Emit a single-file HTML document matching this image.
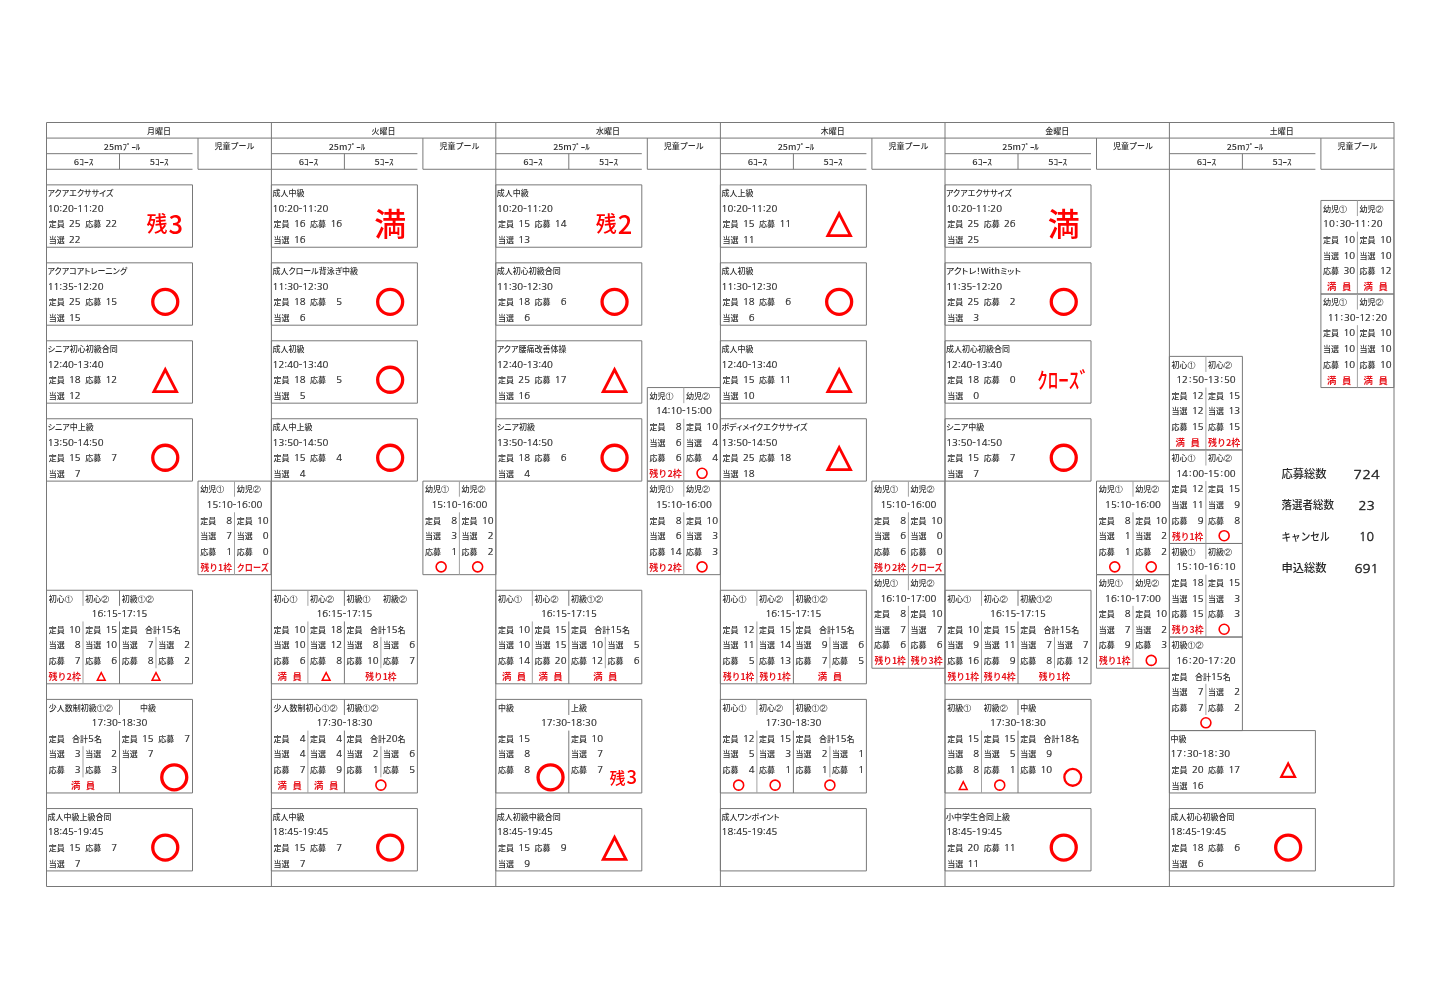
<!DOCTYPE html>
<html lang="ja"><head><meta charset="utf-8"><title>スケジュール</title>
<style>
html,body{margin:0;padding:0;background:#fff;}
body{width:1440px;height:996px;overflow:hidden;}
svg{display:block;will-change:transform;}
.ln{stroke:#787878;stroke-width:1;}
.lnl{stroke:#a3a3a3;stroke-width:1;}
text{font-family:"Liberation Sans","Noto Sans CJK JP",sans-serif;fill:#262626;}
.hd{font-family:"Noto Sans CJK JP",sans-serif;font-size:8px;font-weight:500;fill:#2e2e2e;}
.tt{font-family:"Noto Sans CJK JP",sans-serif;font-size:8px;font-weight:500;fill:#2e2e2e;font-feature-settings:"palt";}
.lb{font-family:"Noto Sans CJK JP",sans-serif;font-size:8px;font-weight:500;fill:#2e2e2e;}
.lb2{font-family:"Noto Sans CJK JP",sans-serif;font-size:8px;font-weight:500;fill:#2e2e2e;}
.tm{font-family:"NanumGothic",sans-serif;font-size:9.6px;fill:#2a2a2a;stroke:#2a2a2a;stroke-width:0.22px;}
.nm{font-family:"NanumGothic",sans-serif;font-size:9.6px;fill:#2a2a2a;stroke:#2a2a2a;stroke-width:0.22px;}
.rs{font-family:"Noto Sans CJK JP",sans-serif;font-size:9.4px;font-weight:700;fill:#e8161e;}
.nmt{font-family:"NanumGothic",sans-serif;font-size:9.6px;font-weight:400;fill:#2a2a2a;stroke:#2a2a2a;stroke-width:0.22px;}
.circ{font-family:"WenQuanYi Zen Hei",sans-serif;}
.rbig{font-family:"Noto Sans CJK JP",sans-serif;font-size:32px;font-weight:500;fill:#ff0000;}
.rzan{font-family:"Noto Sans CJK JP",sans-serif;font-size:21px;font-weight:500;fill:#ff0000;}
.rzd{font-size:25.5px;}
.rzan2{font-family:"Noto Sans CJK JP",sans-serif;font-size:16px;font-weight:500;fill:#ff0000;}
.rzd2{font-size:18.5px;}
.rclose{font-family:"Noto Sans CJK JP",sans-serif;font-size:22px;font-weight:500;fill:#ff0000;}
.st{font-family:"Noto Sans CJK JP",sans-serif;font-size:11.3px;font-weight:500;fill:#262626;}
.stn{font-family:"NanumGothic",sans-serif;font-size:13.2px;fill:#222;stroke:#222;stroke-width:0.35px;}
</style></head>
<body><svg width="1440" height="996" viewBox="0 0 1440 996">
<g><line class="ln" x1="46.5" y1="122.5" x2="1394" y2="122.5"/><line class="ln" x1="46.5" y1="886.51" x2="1394" y2="886.51"/><line class="ln" x1="46.5" y1="122.5" x2="46.5" y2="886.51"/><line class="ln" x1="271.4" y1="122.5" x2="271.4" y2="886.51"/><line class="ln" x1="495.8" y1="122.5" x2="495.8" y2="886.51"/><line class="ln" x1="720.4" y1="122.5" x2="720.4" y2="886.51"/><line class="ln" x1="945" y1="122.5" x2="945" y2="886.51"/><line class="ln" x1="1169.4" y1="122.5" x2="1169.4" y2="886.51"/><line class="ln" x1="1394" y1="122.5" x2="1394" y2="886.51"/><line class="ln" x1="46.5" y1="138.09" x2="271.4" y2="138.09"/><line class="ln" x1="46.5" y1="153.68" x2="192.5" y2="153.68"/><line class="ln" x1="119.5" y1="153.68" x2="119.5" y2="169.28"/><line class="ln" x1="46.5" y1="169.28" x2="192.5" y2="169.28"/><line class="ln" x1="198" y1="138.09" x2="198" y2="169.28"/><line class="ln" x1="198" y1="169.28" x2="271.4" y2="169.28"/><line class="ln" x1="271.4" y1="138.09" x2="495.8" y2="138.09"/><line class="ln" x1="271.4" y1="153.68" x2="417.4" y2="153.68"/><line class="ln" x1="344.4" y1="153.68" x2="344.4" y2="169.28"/><line class="ln" x1="271.4" y1="169.28" x2="417.4" y2="169.28"/><line class="ln" x1="422.9" y1="138.09" x2="422.9" y2="169.28"/><line class="ln" x1="422.9" y1="169.28" x2="495.8" y2="169.28"/><line class="ln" x1="495.8" y1="138.09" x2="720.4" y2="138.09"/><line class="ln" x1="495.8" y1="153.68" x2="641.8" y2="153.68"/><line class="ln" x1="568.8" y1="153.68" x2="568.8" y2="169.28"/><line class="ln" x1="495.8" y1="169.28" x2="641.8" y2="169.28"/><line class="ln" x1="647.3" y1="138.09" x2="647.3" y2="169.28"/><line class="ln" x1="647.3" y1="169.28" x2="720.4" y2="169.28"/><line class="ln" x1="720.4" y1="138.09" x2="945" y2="138.09"/><line class="ln" x1="720.4" y1="153.68" x2="866.4" y2="153.68"/><line class="ln" x1="793.4" y1="153.68" x2="793.4" y2="169.28"/><line class="ln" x1="720.4" y1="169.28" x2="866.4" y2="169.28"/><line class="ln" x1="871.9" y1="138.09" x2="871.9" y2="169.28"/><line class="ln" x1="871.9" y1="169.28" x2="945" y2="169.28"/><line class="ln" x1="945" y1="138.09" x2="1169.4" y2="138.09"/><line class="ln" x1="945" y1="153.68" x2="1091" y2="153.68"/><line class="ln" x1="1018" y1="153.68" x2="1018" y2="169.28"/><line class="ln" x1="945" y1="169.28" x2="1091" y2="169.28"/><line class="ln" x1="1096.5" y1="138.09" x2="1096.5" y2="169.28"/><line class="ln" x1="1096.5" y1="169.28" x2="1169.4" y2="169.28"/><line class="ln" x1="1169.4" y1="138.09" x2="1394" y2="138.09"/><line class="ln" x1="1169.4" y1="153.68" x2="1315.4" y2="153.68"/><line class="ln" x1="1242.4" y1="153.68" x2="1242.4" y2="169.28"/><line class="ln" x1="1169.4" y1="169.28" x2="1315.4" y2="169.28"/><line class="ln" x1="1320.9" y1="138.09" x2="1320.9" y2="169.28"/><line class="ln" x1="1320.9" y1="169.28" x2="1394" y2="169.28"/><line class="ln" x1="46.5" y1="184.87" x2="192.5" y2="184.87"/><line class="ln" x1="46.5" y1="247.24" x2="192.5" y2="247.24"/><line class="ln" x1="46.5" y1="184.87" x2="46.5" y2="247.24"/><line class="ln" x1="192.5" y1="184.87" x2="192.5" y2="247.24"/><line class="ln" x1="46.5" y1="262.83" x2="192.5" y2="262.83"/><line class="ln" x1="46.5" y1="325.2" x2="192.5" y2="325.2"/><line class="ln" x1="46.5" y1="262.83" x2="46.5" y2="325.2"/><line class="ln" x1="192.5" y1="262.83" x2="192.5" y2="325.2"/><line class="ln" x1="46.5" y1="340.79" x2="192.5" y2="340.79"/><line class="ln" x1="46.5" y1="403.16" x2="192.5" y2="403.16"/><line class="ln" x1="46.5" y1="340.79" x2="46.5" y2="403.16"/><line class="ln" x1="192.5" y1="340.79" x2="192.5" y2="403.16"/><line class="ln" x1="46.5" y1="418.75" x2="192.5" y2="418.75"/><line class="ln" x1="46.5" y1="481.12" x2="192.5" y2="481.12"/><line class="ln" x1="46.5" y1="418.75" x2="46.5" y2="481.12"/><line class="ln" x1="192.5" y1="418.75" x2="192.5" y2="481.12"/><line class="ln" x1="198" y1="481.12" x2="271" y2="481.12"/><line class="ln" x1="198" y1="574.67" x2="271" y2="574.67"/><line class="ln" x1="198" y1="481.12" x2="198" y2="574.67"/><line class="ln" x1="271" y1="481.12" x2="271" y2="574.67"/><line class="lnl" x1="234.5" y1="481.12" x2="234.5" y2="496.71"/><line class="lnl" x1="234.5" y1="512.3" x2="234.5" y2="574.67"/><line class="ln" x1="46.5" y1="590.26" x2="192.5" y2="590.26"/><line class="ln" x1="46.5" y1="683.81" x2="192.5" y2="683.81"/><line class="ln" x1="46.5" y1="590.26" x2="46.5" y2="683.81"/><line class="ln" x1="192.5" y1="590.26" x2="192.5" y2="683.81"/><line class="lnl" x1="83" y1="590.26" x2="83" y2="605.85"/><line class="ln" x1="119.5" y1="590.26" x2="119.5" y2="605.85"/><line class="lnl" x1="83" y1="621.44" x2="83" y2="683.81"/><line class="ln" x1="119.5" y1="621.44" x2="119.5" y2="683.81"/><line class="lnl" x1="156" y1="637.04" x2="156" y2="668.22"/><line class="ln" x1="46.5" y1="699.4" x2="192.5" y2="699.4"/><line class="ln" x1="46.5" y1="792.96" x2="192.5" y2="792.96"/><line class="ln" x1="46.5" y1="699.4" x2="46.5" y2="792.96"/><line class="ln" x1="192.5" y1="699.4" x2="192.5" y2="792.96"/><line class="ln" x1="119.5" y1="699.4" x2="119.5" y2="715"/><line class="ln" x1="119.5" y1="730.59" x2="119.5" y2="792.96"/><line class="lnl" x1="83" y1="746.18" x2="83" y2="777.36"/><line class="ln" x1="46.5" y1="808.55" x2="192.5" y2="808.55"/><line class="ln" x1="46.5" y1="870.92" x2="192.5" y2="870.92"/><line class="ln" x1="46.5" y1="808.55" x2="46.5" y2="870.92"/><line class="ln" x1="192.5" y1="808.55" x2="192.5" y2="870.92"/><line class="ln" x1="271.4" y1="184.87" x2="417.4" y2="184.87"/><line class="ln" x1="271.4" y1="247.24" x2="417.4" y2="247.24"/><line class="ln" x1="271.4" y1="184.87" x2="271.4" y2="247.24"/><line class="ln" x1="417.4" y1="184.87" x2="417.4" y2="247.24"/><line class="ln" x1="271.4" y1="262.83" x2="417.4" y2="262.83"/><line class="ln" x1="271.4" y1="325.2" x2="417.4" y2="325.2"/><line class="ln" x1="271.4" y1="262.83" x2="271.4" y2="325.2"/><line class="ln" x1="417.4" y1="262.83" x2="417.4" y2="325.2"/><line class="ln" x1="271.4" y1="340.79" x2="417.4" y2="340.79"/><line class="ln" x1="271.4" y1="403.16" x2="417.4" y2="403.16"/><line class="ln" x1="271.4" y1="340.79" x2="271.4" y2="403.16"/><line class="ln" x1="417.4" y1="340.79" x2="417.4" y2="403.16"/><line class="ln" x1="271.4" y1="418.75" x2="417.4" y2="418.75"/><line class="ln" x1="271.4" y1="481.12" x2="417.4" y2="481.12"/><line class="ln" x1="271.4" y1="418.75" x2="271.4" y2="481.12"/><line class="ln" x1="417.4" y1="418.75" x2="417.4" y2="481.12"/><line class="ln" x1="422.9" y1="481.12" x2="495.9" y2="481.12"/><line class="ln" x1="422.9" y1="574.67" x2="495.9" y2="574.67"/><line class="ln" x1="422.9" y1="481.12" x2="422.9" y2="574.67"/><line class="ln" x1="495.9" y1="481.12" x2="495.9" y2="574.67"/><line class="lnl" x1="459.4" y1="481.12" x2="459.4" y2="496.71"/><line class="lnl" x1="459.4" y1="512.3" x2="459.4" y2="574.67"/><line class="ln" x1="271.4" y1="590.26" x2="417.4" y2="590.26"/><line class="ln" x1="271.4" y1="683.81" x2="417.4" y2="683.81"/><line class="ln" x1="271.4" y1="590.26" x2="271.4" y2="683.81"/><line class="ln" x1="417.4" y1="590.26" x2="417.4" y2="683.81"/><line class="lnl" x1="307.9" y1="590.26" x2="307.9" y2="605.85"/><line class="ln" x1="344.4" y1="590.26" x2="344.4" y2="605.85"/><line class="lnl" x1="307.9" y1="621.44" x2="307.9" y2="683.81"/><line class="ln" x1="344.4" y1="621.44" x2="344.4" y2="683.81"/><line class="lnl" x1="380.9" y1="637.04" x2="380.9" y2="668.22"/><line class="ln" x1="271.4" y1="699.4" x2="417.4" y2="699.4"/><line class="ln" x1="271.4" y1="792.96" x2="417.4" y2="792.96"/><line class="ln" x1="271.4" y1="699.4" x2="271.4" y2="792.96"/><line class="ln" x1="417.4" y1="699.4" x2="417.4" y2="792.96"/><line class="ln" x1="344.4" y1="699.4" x2="344.4" y2="715"/><line class="ln" x1="344.4" y1="730.59" x2="344.4" y2="792.96"/><line class="lnl" x1="307.9" y1="730.59" x2="307.9" y2="792.96"/><line class="lnl" x1="380.9" y1="746.18" x2="380.9" y2="777.36"/><line class="ln" x1="271.4" y1="808.55" x2="417.4" y2="808.55"/><line class="ln" x1="271.4" y1="870.92" x2="417.4" y2="870.92"/><line class="ln" x1="271.4" y1="808.55" x2="271.4" y2="870.92"/><line class="ln" x1="417.4" y1="808.55" x2="417.4" y2="870.92"/><line class="ln" x1="495.8" y1="184.87" x2="641.8" y2="184.87"/><line class="ln" x1="495.8" y1="247.24" x2="641.8" y2="247.24"/><line class="ln" x1="495.8" y1="184.87" x2="495.8" y2="247.24"/><line class="ln" x1="641.8" y1="184.87" x2="641.8" y2="247.24"/><line class="ln" x1="495.8" y1="262.83" x2="641.8" y2="262.83"/><line class="ln" x1="495.8" y1="325.2" x2="641.8" y2="325.2"/><line class="ln" x1="495.8" y1="262.83" x2="495.8" y2="325.2"/><line class="ln" x1="641.8" y1="262.83" x2="641.8" y2="325.2"/><line class="ln" x1="495.8" y1="340.79" x2="641.8" y2="340.79"/><line class="ln" x1="495.8" y1="403.16" x2="641.8" y2="403.16"/><line class="ln" x1="495.8" y1="340.79" x2="495.8" y2="403.16"/><line class="ln" x1="641.8" y1="340.79" x2="641.8" y2="403.16"/><line class="ln" x1="495.8" y1="418.75" x2="641.8" y2="418.75"/><line class="ln" x1="495.8" y1="481.12" x2="641.8" y2="481.12"/><line class="ln" x1="495.8" y1="418.75" x2="495.8" y2="481.12"/><line class="ln" x1="641.8" y1="418.75" x2="641.8" y2="481.12"/><line class="ln" x1="647.3" y1="387.56" x2="720.3" y2="387.56"/><line class="ln" x1="647.3" y1="481.12" x2="720.3" y2="481.12"/><line class="ln" x1="647.3" y1="387.56" x2="647.3" y2="481.12"/><line class="ln" x1="720.3" y1="387.56" x2="720.3" y2="481.12"/><line class="lnl" x1="683.8" y1="387.56" x2="683.8" y2="403.16"/><line class="lnl" x1="683.8" y1="418.75" x2="683.8" y2="481.12"/><line class="ln" x1="647.3" y1="481.12" x2="720.3" y2="481.12"/><line class="ln" x1="647.3" y1="574.67" x2="720.3" y2="574.67"/><line class="ln" x1="647.3" y1="481.12" x2="647.3" y2="574.67"/><line class="ln" x1="720.3" y1="481.12" x2="720.3" y2="574.67"/><line class="lnl" x1="683.8" y1="481.12" x2="683.8" y2="496.71"/><line class="lnl" x1="683.8" y1="512.3" x2="683.8" y2="574.67"/><line class="ln" x1="495.8" y1="590.26" x2="641.8" y2="590.26"/><line class="ln" x1="495.8" y1="683.81" x2="641.8" y2="683.81"/><line class="ln" x1="495.8" y1="590.26" x2="495.8" y2="683.81"/><line class="ln" x1="641.8" y1="590.26" x2="641.8" y2="683.81"/><line class="lnl" x1="532.3" y1="590.26" x2="532.3" y2="605.85"/><line class="ln" x1="568.8" y1="590.26" x2="568.8" y2="605.85"/><line class="lnl" x1="532.3" y1="621.44" x2="532.3" y2="683.81"/><line class="ln" x1="568.8" y1="621.44" x2="568.8" y2="683.81"/><line class="lnl" x1="605.3" y1="637.04" x2="605.3" y2="668.22"/><line class="ln" x1="495.8" y1="699.4" x2="641.8" y2="699.4"/><line class="ln" x1="495.8" y1="792.96" x2="641.8" y2="792.96"/><line class="ln" x1="495.8" y1="699.4" x2="495.8" y2="792.96"/><line class="ln" x1="641.8" y1="699.4" x2="641.8" y2="792.96"/><line class="ln" x1="568.8" y1="699.4" x2="568.8" y2="715"/><line class="ln" x1="568.8" y1="730.59" x2="568.8" y2="792.96"/><line class="ln" x1="495.8" y1="808.55" x2="641.8" y2="808.55"/><line class="ln" x1="495.8" y1="870.92" x2="641.8" y2="870.92"/><line class="ln" x1="495.8" y1="808.55" x2="495.8" y2="870.92"/><line class="ln" x1="641.8" y1="808.55" x2="641.8" y2="870.92"/><line class="ln" x1="720.4" y1="184.87" x2="866.4" y2="184.87"/><line class="ln" x1="720.4" y1="247.24" x2="866.4" y2="247.24"/><line class="ln" x1="720.4" y1="184.87" x2="720.4" y2="247.24"/><line class="ln" x1="866.4" y1="184.87" x2="866.4" y2="247.24"/><line class="ln" x1="720.4" y1="262.83" x2="866.4" y2="262.83"/><line class="ln" x1="720.4" y1="325.2" x2="866.4" y2="325.2"/><line class="ln" x1="720.4" y1="262.83" x2="720.4" y2="325.2"/><line class="ln" x1="866.4" y1="262.83" x2="866.4" y2="325.2"/><line class="ln" x1="720.4" y1="340.79" x2="866.4" y2="340.79"/><line class="ln" x1="720.4" y1="403.16" x2="866.4" y2="403.16"/><line class="ln" x1="720.4" y1="340.79" x2="720.4" y2="403.16"/><line class="ln" x1="866.4" y1="340.79" x2="866.4" y2="403.16"/><line class="ln" x1="720.4" y1="418.75" x2="866.4" y2="418.75"/><line class="ln" x1="720.4" y1="481.12" x2="866.4" y2="481.12"/><line class="ln" x1="720.4" y1="418.75" x2="720.4" y2="481.12"/><line class="ln" x1="866.4" y1="418.75" x2="866.4" y2="481.12"/><line class="ln" x1="871.9" y1="481.12" x2="944.9" y2="481.12"/><line class="ln" x1="871.9" y1="574.67" x2="944.9" y2="574.67"/><line class="ln" x1="871.9" y1="481.12" x2="871.9" y2="574.67"/><line class="ln" x1="944.9" y1="481.12" x2="944.9" y2="574.67"/><line class="lnl" x1="908.4" y1="481.12" x2="908.4" y2="496.71"/><line class="lnl" x1="908.4" y1="512.3" x2="908.4" y2="574.67"/><line class="ln" x1="871.9" y1="574.67" x2="944.9" y2="574.67"/><line class="ln" x1="871.9" y1="668.22" x2="944.9" y2="668.22"/><line class="ln" x1="871.9" y1="574.67" x2="871.9" y2="668.22"/><line class="ln" x1="944.9" y1="574.67" x2="944.9" y2="668.22"/><line class="lnl" x1="908.4" y1="574.67" x2="908.4" y2="590.26"/><line class="lnl" x1="908.4" y1="605.85" x2="908.4" y2="668.22"/><line class="ln" x1="720.4" y1="590.26" x2="866.4" y2="590.26"/><line class="ln" x1="720.4" y1="683.81" x2="866.4" y2="683.81"/><line class="ln" x1="720.4" y1="590.26" x2="720.4" y2="683.81"/><line class="ln" x1="866.4" y1="590.26" x2="866.4" y2="683.81"/><line class="lnl" x1="756.9" y1="590.26" x2="756.9" y2="605.85"/><line class="ln" x1="793.4" y1="590.26" x2="793.4" y2="605.85"/><line class="lnl" x1="756.9" y1="621.44" x2="756.9" y2="683.81"/><line class="ln" x1="793.4" y1="621.44" x2="793.4" y2="683.81"/><line class="lnl" x1="829.9" y1="637.04" x2="829.9" y2="668.22"/><line class="ln" x1="720.4" y1="699.4" x2="866.4" y2="699.4"/><line class="ln" x1="720.4" y1="792.96" x2="866.4" y2="792.96"/><line class="ln" x1="720.4" y1="699.4" x2="720.4" y2="792.96"/><line class="ln" x1="866.4" y1="699.4" x2="866.4" y2="792.96"/><line class="lnl" x1="756.9" y1="699.4" x2="756.9" y2="715"/><line class="ln" x1="793.4" y1="699.4" x2="793.4" y2="715"/><line class="lnl" x1="756.9" y1="730.59" x2="756.9" y2="792.96"/><line class="ln" x1="793.4" y1="730.59" x2="793.4" y2="792.96"/><line class="lnl" x1="829.9" y1="746.18" x2="829.9" y2="777.36"/><line class="ln" x1="720.4" y1="808.55" x2="866.4" y2="808.55"/><line class="ln" x1="720.4" y1="870.92" x2="866.4" y2="870.92"/><line class="ln" x1="720.4" y1="808.55" x2="720.4" y2="870.92"/><line class="ln" x1="866.4" y1="808.55" x2="866.4" y2="870.92"/><line class="ln" x1="945" y1="184.87" x2="1091" y2="184.87"/><line class="ln" x1="945" y1="247.24" x2="1091" y2="247.24"/><line class="ln" x1="945" y1="184.87" x2="945" y2="247.24"/><line class="ln" x1="1091" y1="184.87" x2="1091" y2="247.24"/><line class="ln" x1="945" y1="262.83" x2="1091" y2="262.83"/><line class="ln" x1="945" y1="325.2" x2="1091" y2="325.2"/><line class="ln" x1="945" y1="262.83" x2="945" y2="325.2"/><line class="ln" x1="1091" y1="262.83" x2="1091" y2="325.2"/><line class="ln" x1="945" y1="340.79" x2="1091" y2="340.79"/><line class="ln" x1="945" y1="403.16" x2="1091" y2="403.16"/><line class="ln" x1="945" y1="340.79" x2="945" y2="403.16"/><line class="ln" x1="1091" y1="340.79" x2="1091" y2="403.16"/><line class="ln" x1="945" y1="418.75" x2="1091" y2="418.75"/><line class="ln" x1="945" y1="481.12" x2="1091" y2="481.12"/><line class="ln" x1="945" y1="418.75" x2="945" y2="481.12"/><line class="ln" x1="1091" y1="418.75" x2="1091" y2="481.12"/><line class="ln" x1="1096.5" y1="481.12" x2="1169.5" y2="481.12"/><line class="ln" x1="1096.5" y1="574.67" x2="1169.5" y2="574.67"/><line class="ln" x1="1096.5" y1="481.12" x2="1096.5" y2="574.67"/><line class="ln" x1="1169.5" y1="481.12" x2="1169.5" y2="574.67"/><line class="lnl" x1="1133" y1="481.12" x2="1133" y2="496.71"/><line class="lnl" x1="1133" y1="512.3" x2="1133" y2="574.67"/><line class="ln" x1="1096.5" y1="574.67" x2="1169.5" y2="574.67"/><line class="ln" x1="1096.5" y1="668.22" x2="1169.5" y2="668.22"/><line class="ln" x1="1096.5" y1="574.67" x2="1096.5" y2="668.22"/><line class="ln" x1="1169.5" y1="574.67" x2="1169.5" y2="668.22"/><line class="lnl" x1="1133" y1="574.67" x2="1133" y2="590.26"/><line class="lnl" x1="1133" y1="605.85" x2="1133" y2="668.22"/><line class="ln" x1="945" y1="590.26" x2="1091" y2="590.26"/><line class="ln" x1="945" y1="683.81" x2="1091" y2="683.81"/><line class="ln" x1="945" y1="590.26" x2="945" y2="683.81"/><line class="ln" x1="1091" y1="590.26" x2="1091" y2="683.81"/><line class="lnl" x1="981.5" y1="590.26" x2="981.5" y2="605.85"/><line class="ln" x1="1018" y1="590.26" x2="1018" y2="605.85"/><line class="lnl" x1="981.5" y1="621.44" x2="981.5" y2="683.81"/><line class="ln" x1="1018" y1="621.44" x2="1018" y2="683.81"/><line class="lnl" x1="1054.5" y1="637.04" x2="1054.5" y2="668.22"/><line class="ln" x1="945" y1="699.4" x2="1091" y2="699.4"/><line class="ln" x1="945" y1="792.96" x2="1091" y2="792.96"/><line class="ln" x1="945" y1="699.4" x2="945" y2="792.96"/><line class="ln" x1="1091" y1="699.4" x2="1091" y2="792.96"/><line class="ln" x1="1018" y1="699.4" x2="1018" y2="715"/><line class="ln" x1="1018" y1="730.59" x2="1018" y2="792.96"/><line class="lnl" x1="981.5" y1="730.59" x2="981.5" y2="792.96"/><line class="ln" x1="945" y1="808.55" x2="1091" y2="808.55"/><line class="ln" x1="945" y1="870.92" x2="1091" y2="870.92"/><line class="ln" x1="945" y1="808.55" x2="945" y2="870.92"/><line class="ln" x1="1091" y1="808.55" x2="1091" y2="870.92"/><line class="ln" x1="1320.9" y1="200.46" x2="1393.9" y2="200.46"/><line class="ln" x1="1320.9" y1="294.01" x2="1393.9" y2="294.01"/><line class="ln" x1="1320.9" y1="200.46" x2="1320.9" y2="294.01"/><line class="ln" x1="1393.9" y1="200.46" x2="1393.9" y2="294.01"/><line class="lnl" x1="1357.4" y1="200.46" x2="1357.4" y2="216.05"/><line class="lnl" x1="1357.4" y1="231.64" x2="1357.4" y2="294.01"/><line class="ln" x1="1320.9" y1="294.01" x2="1393.9" y2="294.01"/><line class="ln" x1="1320.9" y1="387.56" x2="1393.9" y2="387.56"/><line class="ln" x1="1320.9" y1="294.01" x2="1320.9" y2="387.56"/><line class="ln" x1="1393.9" y1="294.01" x2="1393.9" y2="387.56"/><line class="lnl" x1="1357.4" y1="294.01" x2="1357.4" y2="309.6"/><line class="lnl" x1="1357.4" y1="325.2" x2="1357.4" y2="387.56"/><line class="ln" x1="1169.4" y1="356.38" x2="1242.4" y2="356.38"/><line class="ln" x1="1169.4" y1="449.93" x2="1242.4" y2="449.93"/><line class="ln" x1="1169.4" y1="356.38" x2="1169.4" y2="449.93"/><line class="ln" x1="1242.4" y1="356.38" x2="1242.4" y2="449.93"/><line class="lnl" x1="1205.9" y1="356.38" x2="1205.9" y2="371.97"/><line class="lnl" x1="1205.9" y1="387.56" x2="1205.9" y2="449.93"/><line class="ln" x1="1169.4" y1="449.93" x2="1242.4" y2="449.93"/><line class="ln" x1="1169.4" y1="543.48" x2="1242.4" y2="543.48"/><line class="ln" x1="1169.4" y1="449.93" x2="1169.4" y2="543.48"/><line class="ln" x1="1242.4" y1="449.93" x2="1242.4" y2="543.48"/><line class="lnl" x1="1205.9" y1="449.93" x2="1205.9" y2="465.52"/><line class="lnl" x1="1205.9" y1="481.12" x2="1205.9" y2="543.48"/><line class="ln" x1="1169.4" y1="543.48" x2="1242.4" y2="543.48"/><line class="ln" x1="1169.4" y1="637.04" x2="1242.4" y2="637.04"/><line class="ln" x1="1169.4" y1="543.48" x2="1169.4" y2="637.04"/><line class="ln" x1="1242.4" y1="543.48" x2="1242.4" y2="637.04"/><line class="lnl" x1="1205.9" y1="543.48" x2="1205.9" y2="559.08"/><line class="lnl" x1="1205.9" y1="574.67" x2="1205.9" y2="637.04"/><line class="ln" x1="1169.4" y1="637.04" x2="1242.4" y2="637.04"/><line class="ln" x1="1169.4" y1="730.59" x2="1242.4" y2="730.59"/><line class="ln" x1="1169.4" y1="637.04" x2="1169.4" y2="730.59"/><line class="ln" x1="1242.4" y1="637.04" x2="1242.4" y2="730.59"/><line class="lnl" x1="1205.9" y1="683.81" x2="1205.9" y2="715"/><line class="ln" x1="1169.4" y1="730.59" x2="1315.4" y2="730.59"/><line class="ln" x1="1169.4" y1="792.96" x2="1315.4" y2="792.96"/><line class="ln" x1="1169.4" y1="730.59" x2="1169.4" y2="792.96"/><line class="ln" x1="1315.4" y1="730.59" x2="1315.4" y2="792.96"/><line class="ln" x1="1169.4" y1="808.55" x2="1315.4" y2="808.55"/><line class="ln" x1="1169.4" y1="870.92" x2="1315.4" y2="870.92"/><line class="ln" x1="1169.4" y1="808.55" x2="1169.4" y2="870.92"/><line class="ln" x1="1315.4" y1="808.55" x2="1315.4" y2="870.92"/></g>
<g><circle cx="165.25" cy="301.81" r="12.5" fill="none" stroke="#ff0000" stroke-width="3.3"/><path d="M165.25 366.52L178.9 393.02L151.6 393.02Z M165.25 372.63L156.19 390.22L174.31 390.22Z" fill="#ff0000" fill-rule="evenodd"/><circle cx="165.25" cy="457.73" r="12.5" fill="none" stroke="#ff0000" stroke-width="3.3"/><path d="M101.25 670.97L106.4 681.07L96.1 681.07Z M101.25 674.27L98.55 679.57L103.95 679.57Z" fill="#ff0000" fill-rule="evenodd"/><path d="M156 670.97L161.15 681.07L150.85 681.07Z M156 674.27L153.3 679.57L158.7 679.57Z" fill="#ff0000" fill-rule="evenodd"/><circle cx="174.25" cy="777.36" r="12.5" fill="none" stroke="#ff0000" stroke-width="3.3"/><circle cx="165.25" cy="847.53" r="12.5" fill="none" stroke="#ff0000" stroke-width="3.3"/><circle cx="390.15" cy="301.81" r="12.5" fill="none" stroke="#ff0000" stroke-width="3.3"/><circle cx="390.15" cy="379.77" r="12.5" fill="none" stroke="#ff0000" stroke-width="3.3"/><circle cx="390.15" cy="457.73" r="12.5" fill="none" stroke="#ff0000" stroke-width="3.3"/><circle cx="441.15" cy="566.87" r="5" fill="none" stroke="#ff0000" stroke-width="1.6"/><circle cx="477.65" cy="566.87" r="5" fill="none" stroke="#ff0000" stroke-width="1.6"/><path d="M326.15 670.97L331.3 681.07L321 681.07Z M326.15 674.27L323.45 679.57L328.85 679.57Z" fill="#ff0000" fill-rule="evenodd"/><circle cx="380.9" cy="785.16" r="5" fill="none" stroke="#ff0000" stroke-width="1.6"/><circle cx="390.15" cy="847.53" r="12.5" fill="none" stroke="#ff0000" stroke-width="3.3"/><circle cx="614.55" cy="301.81" r="12.5" fill="none" stroke="#ff0000" stroke-width="3.3"/><path d="M614.55 366.52L628.2 393.02L600.9 393.02Z M614.55 372.63L605.49 390.22L623.61 390.22Z" fill="#ff0000" fill-rule="evenodd"/><circle cx="614.55" cy="457.73" r="12.5" fill="none" stroke="#ff0000" stroke-width="3.3"/><circle cx="702.05" cy="473.32" r="5" fill="none" stroke="#ff0000" stroke-width="1.6"/><circle cx="702.05" cy="566.87" r="5" fill="none" stroke="#ff0000" stroke-width="1.6"/><circle cx="550.55" cy="777.36" r="12.5" fill="none" stroke="#ff0000" stroke-width="3.3"/><path d="M614.55 834.28L628.2 860.78L600.9 860.78Z M614.55 840.39L605.49 857.98L623.61 857.98Z" fill="#ff0000" fill-rule="evenodd"/><path d="M839.15 210.6L852.8 237.1L825.5 237.1Z M839.15 216.71L830.09 234.3L848.21 234.3Z" fill="#ff0000" fill-rule="evenodd"/><circle cx="839.15" cy="301.81" r="12.5" fill="none" stroke="#ff0000" stroke-width="3.3"/><path d="M839.15 366.52L852.8 393.02L825.5 393.02Z M839.15 372.63L830.09 390.22L848.21 390.22Z" fill="#ff0000" fill-rule="evenodd"/><path d="M839.15 444.48L852.8 470.98L825.5 470.98Z M839.15 450.59L830.09 468.18L848.21 468.18Z" fill="#ff0000" fill-rule="evenodd"/><circle cx="738.65" cy="785.16" r="5" fill="none" stroke="#ff0000" stroke-width="1.6"/><circle cx="775.15" cy="785.16" r="5" fill="none" stroke="#ff0000" stroke-width="1.6"/><circle cx="829.9" cy="785.16" r="5" fill="none" stroke="#ff0000" stroke-width="1.6"/><circle cx="1063.75" cy="301.81" r="12.5" fill="none" stroke="#ff0000" stroke-width="3.3"/><circle cx="1063.75" cy="457.73" r="12.5" fill="none" stroke="#ff0000" stroke-width="3.3"/><circle cx="1114.75" cy="566.87" r="5" fill="none" stroke="#ff0000" stroke-width="1.6"/><circle cx="1151.25" cy="566.87" r="5" fill="none" stroke="#ff0000" stroke-width="1.6"/><circle cx="1151.25" cy="660.42" r="5" fill="none" stroke="#ff0000" stroke-width="1.6"/><path d="M963.25 780.11L968.4 790.21L958.1 790.21Z M963.25 783.41L960.55 788.71L965.95 788.71Z" fill="#ff0000" fill-rule="evenodd"/><circle cx="999.75" cy="785.16" r="5" fill="none" stroke="#ff0000" stroke-width="1.6"/><circle cx="1072.75" cy="777.36" r="8.4" fill="none" stroke="#ff0000" stroke-width="2.3"/><circle cx="1063.75" cy="847.53" r="12.5" fill="none" stroke="#ff0000" stroke-width="3.3"/><circle cx="1224.15" cy="535.69" r="5" fill="none" stroke="#ff0000" stroke-width="1.6"/><circle cx="1224.15" cy="629.24" r="5" fill="none" stroke="#ff0000" stroke-width="1.6"/><circle cx="1205.9" cy="722.79" r="5" fill="none" stroke="#ff0000" stroke-width="1.6"/><path d="M1288.15 761.07L1296.9 778.07L1279.4 778.07Z M1288.15 765.88L1283.01 775.87L1293.29 775.87Z" fill="#ff0000" fill-rule="evenodd"/><circle cx="1288.15" cy="847.53" r="12.5" fill="none" stroke="#ff0000" stroke-width="3.3"/></g>
<g><text class="hd" x="158.95" y="133.69" text-anchor="middle">月曜日</text><text class="hd" x="122.1" y="149.68" text-anchor="middle" textLength="36.5" lengthAdjust="spacingAndGlyphs">25mﾌﾟｰﾙ</text><text class="hd" x="83.6" y="164.98" text-anchor="middle" textLength="19.5" lengthAdjust="spacingAndGlyphs">6ｺｰｽ</text><text class="hd" x="159.2" y="164.98" text-anchor="middle" textLength="19" lengthAdjust="spacingAndGlyphs">5ｺｰｽ</text><text class="hd" x="234.5" y="149.38" text-anchor="middle">児童プール</text><text class="hd" x="383.6" y="133.69" text-anchor="middle">火曜日</text><text class="hd" x="347" y="149.68" text-anchor="middle" textLength="36.5" lengthAdjust="spacingAndGlyphs">25mﾌﾟｰﾙ</text><text class="hd" x="308.5" y="164.98" text-anchor="middle" textLength="19.5" lengthAdjust="spacingAndGlyphs">6ｺｰｽ</text><text class="hd" x="384.1" y="164.98" text-anchor="middle" textLength="19" lengthAdjust="spacingAndGlyphs">5ｺｰｽ</text><text class="hd" x="459.4" y="149.38" text-anchor="middle">児童プール</text><text class="hd" x="608.1" y="133.69" text-anchor="middle">水曜日</text><text class="hd" x="571.4" y="149.68" text-anchor="middle" textLength="36.5" lengthAdjust="spacingAndGlyphs">25mﾌﾟｰﾙ</text><text class="hd" x="532.9" y="164.98" text-anchor="middle" textLength="19.5" lengthAdjust="spacingAndGlyphs">6ｺｰｽ</text><text class="hd" x="608.5" y="164.98" text-anchor="middle" textLength="19" lengthAdjust="spacingAndGlyphs">5ｺｰｽ</text><text class="hd" x="683.8" y="149.38" text-anchor="middle">児童プール</text><text class="hd" x="832.7" y="133.69" text-anchor="middle">木曜日</text><text class="hd" x="796" y="149.68" text-anchor="middle" textLength="36.5" lengthAdjust="spacingAndGlyphs">25mﾌﾟｰﾙ</text><text class="hd" x="757.5" y="164.98" text-anchor="middle" textLength="19.5" lengthAdjust="spacingAndGlyphs">6ｺｰｽ</text><text class="hd" x="833.1" y="164.98" text-anchor="middle" textLength="19" lengthAdjust="spacingAndGlyphs">5ｺｰｽ</text><text class="hd" x="908.4" y="149.38" text-anchor="middle">児童プール</text><text class="hd" x="1057.2" y="133.69" text-anchor="middle">金曜日</text><text class="hd" x="1020.6" y="149.68" text-anchor="middle" textLength="36.5" lengthAdjust="spacingAndGlyphs">25mﾌﾟｰﾙ</text><text class="hd" x="982.1" y="164.98" text-anchor="middle" textLength="19.5" lengthAdjust="spacingAndGlyphs">6ｺｰｽ</text><text class="hd" x="1057.7" y="164.98" text-anchor="middle" textLength="19" lengthAdjust="spacingAndGlyphs">5ｺｰｽ</text><text class="hd" x="1133" y="149.38" text-anchor="middle">児童プール</text><text class="hd" x="1281.7" y="133.69" text-anchor="middle">土曜日</text><text class="hd" x="1245" y="149.68" text-anchor="middle" textLength="36.5" lengthAdjust="spacingAndGlyphs">25mﾌﾟｰﾙ</text><text class="hd" x="1206.5" y="164.98" text-anchor="middle" textLength="19.5" lengthAdjust="spacingAndGlyphs">6ｺｰｽ</text><text class="hd" x="1282.1" y="164.98" text-anchor="middle" textLength="19" lengthAdjust="spacingAndGlyphs">5ｺｰｽ</text><text class="hd" x="1357.4" y="149.38" text-anchor="middle">児童プール</text><text class="tt" x="47.5" y="196.16">アクアエクササイズ</text><text class="tm" x="47.7" y="211.75">10:20-11:20</text><text class="lb" x="48.7" y="227.34">定員</text><text class="nm" x="80.7" y="227.34" text-anchor="end">25</text><text class="lb" x="85.2" y="227.34">応募</text><text class="nm" x="117.2" y="227.34" text-anchor="end">22</text><text class="lb" x="48.7" y="242.94">当選</text><text class="nm" x="80.7" y="242.94" text-anchor="end">22</text><text class="rzan" x="164.65" y="231.25" text-anchor="middle">残<tspan class="rzd" dx="1" dy="2.3">3</tspan></text><text class="tt" x="47.5" y="274.12">アクアコアトレーニング</text><text class="tm" x="47.7" y="289.71">11:35-12:20</text><text class="lb" x="48.7" y="305.3">定員</text><text class="nm" x="80.7" y="305.3" text-anchor="end">25</text><text class="lb" x="85.2" y="305.3">応募</text><text class="nm" x="117.2" y="305.3" text-anchor="end">15</text><text class="lb" x="48.7" y="320.9">当選</text><text class="nm" x="80.7" y="320.9" text-anchor="end">15</text><text class="tt" x="47.5" y="352.08">シニア初心初級合同</text><text class="tm" x="47.7" y="367.67">12:40-13:40</text><text class="lb" x="48.7" y="383.26">定員</text><text class="nm" x="80.7" y="383.26" text-anchor="end">18</text><text class="lb" x="85.2" y="383.26">応募</text><text class="nm" x="117.2" y="383.26" text-anchor="end">12</text><text class="lb" x="48.7" y="398.86">当選</text><text class="nm" x="80.7" y="398.86" text-anchor="end">12</text><text class="tt" x="47.5" y="430.04">シニア中上級</text><text class="tm" x="47.7" y="445.63">13:50-14:50</text><text class="lb" x="48.7" y="461.22">定員</text><text class="nm" x="80.7" y="461.22" text-anchor="end">15</text><text class="lb" x="85.2" y="461.22">応募</text><text class="nm" x="117.2" y="461.22" text-anchor="end">7</text><text class="lb" x="48.7" y="476.82">当選</text><text class="nm" x="80.7" y="476.82" text-anchor="end">7</text><text class="lb" x="200.2" y="492.41">幼児<tspan class="circ">①</tspan></text><text class="lb" x="236.7" y="492.41">幼児<tspan class="circ">②</tspan></text><text class="tm" x="234.5" y="508" text-anchor="middle">15:10-16:00</text><text class="lb" x="200.2" y="523.59">定員</text><text class="nm" x="232.2" y="523.59" text-anchor="end">8</text><text class="lb" x="236.7" y="523.59">定員</text><text class="nm" x="268.7" y="523.59" text-anchor="end">10</text><text class="lb" x="200.2" y="539.18">当選</text><text class="nm" x="232.2" y="539.18" text-anchor="end">7</text><text class="lb" x="236.7" y="539.18">当選</text><text class="nm" x="268.7" y="539.18" text-anchor="end">0</text><text class="lb" x="200.2" y="554.78">応募</text><text class="nm" x="232.2" y="554.78" text-anchor="end">1</text><text class="lb" x="236.7" y="554.78">応募</text><text class="nm" x="268.7" y="554.78" text-anchor="end">0</text><text class="rs" x="216.25" y="570.87" text-anchor="middle" textLength="31.4" lengthAdjust="spacingAndGlyphs">残り1枠</text><text class="rs" x="252.75" y="570.87" text-anchor="middle" textLength="32" lengthAdjust="spacingAndGlyphs">クローズ</text><text class="lb" x="48.7" y="601.55">初心<tspan class="circ">①</tspan></text><text class="lb" x="85.2" y="601.55">初心<tspan class="circ">②</tspan></text><text class="lb" x="121.7" y="601.55">初級<tspan class="circ">①②</tspan></text><text class="tm" x="119.5" y="617.14" text-anchor="middle">16:15-17:15</text><text class="lb" x="48.7" y="632.74">定員</text><text class="nm" x="80.7" y="632.74" text-anchor="end">10</text><text class="lb" x="85.2" y="632.74">定員</text><text class="nm" x="117.2" y="632.74" text-anchor="end">15</text><text class="lb" x="121.7" y="632.74">定員</text><text class="lb2" x="145" y="632.74">合計<tspan class="nmt">15</tspan>名</text><text class="lb" x="48.7" y="648.33">当選</text><text class="nm" x="80.7" y="648.33" text-anchor="end">8</text><text class="lb" x="85.2" y="648.33">当選</text><text class="nm" x="117.2" y="648.33" text-anchor="end">10</text><text class="lb" x="121.7" y="648.33">当選</text><text class="nm" x="153.7" y="648.33" text-anchor="end">7</text><text class="lb" x="158.2" y="648.33">当選</text><text class="nm" x="190.2" y="648.33" text-anchor="end">2</text><text class="lb" x="48.7" y="663.92">応募</text><text class="nm" x="80.7" y="663.92" text-anchor="end">7</text><text class="lb" x="85.2" y="663.92">応募</text><text class="nm" x="117.2" y="663.92" text-anchor="end">6</text><text class="lb" x="121.7" y="663.92">応募</text><text class="nm" x="153.7" y="663.92" text-anchor="end">8</text><text class="lb" x="158.2" y="663.92">応募</text><text class="nm" x="190.2" y="663.92" text-anchor="end">2</text><text class="rs" x="64.75" y="680.01" text-anchor="middle" textLength="32.4" lengthAdjust="spacingAndGlyphs">残り2枠</text><text class="lb" x="48.7" y="710.7">少人数制初級<tspan class="circ">①②</tspan></text><text class="lb" x="139.95" y="710.7">中級</text><text class="tm" x="119.5" y="726.29" text-anchor="middle">17:30-18:30</text><text class="lb" x="48.7" y="741.88">定員</text><text class="lb2" x="72.1" y="741.88">合計<tspan class="nmt">5</tspan>名</text><text class="lb" x="121.7" y="741.88">定員</text><text class="nm" x="153.7" y="741.88" text-anchor="end">15</text><text class="lb" x="158.2" y="741.88">応募</text><text class="nm" x="190.2" y="741.88" text-anchor="end">7</text><text class="lb" x="48.7" y="757.47">当選</text><text class="nm" x="80.7" y="757.47" text-anchor="end">3</text><text class="lb" x="85.2" y="757.47">当選</text><text class="nm" x="117.2" y="757.47" text-anchor="end">2</text><text class="lb" x="121.7" y="757.47">当選</text><text class="nm" x="153.7" y="757.47" text-anchor="end">7</text><text class="lb" x="48.7" y="773.06">応募</text><text class="nm" x="80.7" y="773.06" text-anchor="end">3</text><text class="lb" x="85.2" y="773.06">応募</text><text class="nm" x="117.2" y="773.06" text-anchor="end">3</text><text class="rs" x="75.6" y="789.16" text-anchor="middle">満</text><text class="rs" x="90.5" y="789.16" text-anchor="middle">員</text><text class="tt" x="47.5" y="819.84">成人中級上級合同</text><text class="tm" x="47.7" y="835.43">18:45-19:45</text><text class="lb" x="48.7" y="851.02">定員</text><text class="nm" x="80.7" y="851.02" text-anchor="end">15</text><text class="lb" x="85.2" y="851.02">応募</text><text class="nm" x="117.2" y="851.02" text-anchor="end">7</text><text class="lb" x="48.7" y="866.62">当選</text><text class="nm" x="80.7" y="866.62" text-anchor="end">7</text><text class="tt" x="272.4" y="196.16">成人中級</text><text class="tm" x="272.6" y="211.75">10:20-11:20</text><text class="lb" x="273.6" y="227.34">定員</text><text class="nm" x="305.6" y="227.34" text-anchor="end">16</text><text class="lb" x="310.1" y="227.34">応募</text><text class="nm" x="342.1" y="227.34" text-anchor="end">16</text><text class="lb" x="273.6" y="242.94">当選</text><text class="nm" x="305.6" y="242.94" text-anchor="end">16</text><text class="rbig" x="390.15" y="236.05" text-anchor="middle">満</text><text class="tt" x="272.4" y="274.12">成人クロール背泳ぎ中級</text><text class="tm" x="272.6" y="289.71">11:30-12:30</text><text class="lb" x="273.6" y="305.3">定員</text><text class="nm" x="305.6" y="305.3" text-anchor="end">18</text><text class="lb" x="310.1" y="305.3">応募</text><text class="nm" x="342.1" y="305.3" text-anchor="end">5</text><text class="lb" x="273.6" y="320.9">当選</text><text class="nm" x="305.6" y="320.9" text-anchor="end">6</text><text class="tt" x="272.4" y="352.08">成人初級</text><text class="tm" x="272.6" y="367.67">12:40-13:40</text><text class="lb" x="273.6" y="383.26">定員</text><text class="nm" x="305.6" y="383.26" text-anchor="end">18</text><text class="lb" x="310.1" y="383.26">応募</text><text class="nm" x="342.1" y="383.26" text-anchor="end">5</text><text class="lb" x="273.6" y="398.86">当選</text><text class="nm" x="305.6" y="398.86" text-anchor="end">5</text><text class="tt" x="272.4" y="430.04">成人中上級</text><text class="tm" x="272.6" y="445.63">13:50-14:50</text><text class="lb" x="273.6" y="461.22">定員</text><text class="nm" x="305.6" y="461.22" text-anchor="end">15</text><text class="lb" x="310.1" y="461.22">応募</text><text class="nm" x="342.1" y="461.22" text-anchor="end">4</text><text class="lb" x="273.6" y="476.82">当選</text><text class="nm" x="305.6" y="476.82" text-anchor="end">4</text><text class="lb" x="425.1" y="492.41">幼児<tspan class="circ">①</tspan></text><text class="lb" x="461.6" y="492.41">幼児<tspan class="circ">②</tspan></text><text class="tm" x="459.4" y="508" text-anchor="middle">15:10-16:00</text><text class="lb" x="425.1" y="523.59">定員</text><text class="nm" x="457.1" y="523.59" text-anchor="end">8</text><text class="lb" x="461.6" y="523.59">定員</text><text class="nm" x="493.6" y="523.59" text-anchor="end">10</text><text class="lb" x="425.1" y="539.18">当選</text><text class="nm" x="457.1" y="539.18" text-anchor="end">3</text><text class="lb" x="461.6" y="539.18">当選</text><text class="nm" x="493.6" y="539.18" text-anchor="end">2</text><text class="lb" x="425.1" y="554.78">応募</text><text class="nm" x="457.1" y="554.78" text-anchor="end">1</text><text class="lb" x="461.6" y="554.78">応募</text><text class="nm" x="493.6" y="554.78" text-anchor="end">2</text><text class="lb" x="273.6" y="601.55">初心<tspan class="circ">①</tspan></text><text class="lb" x="310.1" y="601.55">初心<tspan class="circ">②</tspan></text><text class="lb" x="346.6" y="601.55">初級<tspan class="circ">①</tspan></text><text class="lb" x="383.1" y="601.55">初級<tspan class="circ">②</tspan></text><text class="tm" x="344.4" y="617.14" text-anchor="middle">16:15-17:15</text><text class="lb" x="273.6" y="632.74">定員</text><text class="nm" x="305.6" y="632.74" text-anchor="end">10</text><text class="lb" x="310.1" y="632.74">定員</text><text class="nm" x="342.1" y="632.74" text-anchor="end">18</text><text class="lb" x="346.6" y="632.74">定員</text><text class="lb2" x="369.9" y="632.74">合計<tspan class="nmt">15</tspan>名</text><text class="lb" x="273.6" y="648.33">当選</text><text class="nm" x="305.6" y="648.33" text-anchor="end">10</text><text class="lb" x="310.1" y="648.33">当選</text><text class="nm" x="342.1" y="648.33" text-anchor="end">12</text><text class="lb" x="346.6" y="648.33">当選</text><text class="nm" x="378.6" y="648.33" text-anchor="end">8</text><text class="lb" x="383.1" y="648.33">当選</text><text class="nm" x="415.1" y="648.33" text-anchor="end">6</text><text class="lb" x="273.6" y="663.92">応募</text><text class="nm" x="305.6" y="663.92" text-anchor="end">6</text><text class="lb" x="310.1" y="663.92">応募</text><text class="nm" x="342.1" y="663.92" text-anchor="end">8</text><text class="lb" x="346.6" y="663.92">応募</text><text class="nm" x="378.6" y="663.92" text-anchor="end">10</text><text class="lb" x="383.1" y="663.92">応募</text><text class="nm" x="415.1" y="663.92" text-anchor="end">7</text><text class="rs" x="282.25" y="680.01" text-anchor="middle">満</text><text class="rs" x="297.15" y="680.01" text-anchor="middle">員</text><text class="rs" x="380.9" y="680.01" text-anchor="middle" textLength="31.4" lengthAdjust="spacingAndGlyphs">残り1枠</text><text class="lb" x="273.6" y="710.7">少人数制初心<tspan class="circ">①②</tspan></text><text class="lb" x="346.6" y="710.7">初級<tspan class="circ">①②</tspan></text><text class="tm" x="344.4" y="726.29" text-anchor="middle">17:30-18:30</text><text class="lb" x="273.6" y="741.88">定員</text><text class="nm" x="305.6" y="741.88" text-anchor="end">4</text><text class="lb" x="310.1" y="741.88">定員</text><text class="nm" x="342.1" y="741.88" text-anchor="end">4</text><text class="lb" x="346.6" y="741.88">定員</text><text class="lb2" x="369.9" y="741.88">合計<tspan class="nmt">20</tspan>名</text><text class="lb" x="273.6" y="757.47">当選</text><text class="nm" x="305.6" y="757.47" text-anchor="end">4</text><text class="lb" x="310.1" y="757.47">当選</text><text class="nm" x="342.1" y="757.47" text-anchor="end">4</text><text class="lb" x="346.6" y="757.47">当選</text><text class="nm" x="378.6" y="757.47" text-anchor="end">2</text><text class="lb" x="383.1" y="757.47">当選</text><text class="nm" x="415.1" y="757.47" text-anchor="end">6</text><text class="lb" x="273.6" y="773.06">応募</text><text class="nm" x="305.6" y="773.06" text-anchor="end">7</text><text class="lb" x="310.1" y="773.06">応募</text><text class="nm" x="342.1" y="773.06" text-anchor="end">9</text><text class="lb" x="346.6" y="773.06">応募</text><text class="nm" x="378.6" y="773.06" text-anchor="end">1</text><text class="lb" x="383.1" y="773.06">応募</text><text class="nm" x="415.1" y="773.06" text-anchor="end">5</text><text class="rs" x="282.25" y="789.16" text-anchor="middle">満</text><text class="rs" x="297.15" y="789.16" text-anchor="middle">員</text><text class="rs" x="318.75" y="789.16" text-anchor="middle">満</text><text class="rs" x="333.65" y="789.16" text-anchor="middle">員</text><text class="tt" x="272.4" y="819.84">成人中級</text><text class="tm" x="272.6" y="835.43">18:45-19:45</text><text class="lb" x="273.6" y="851.02">定員</text><text class="nm" x="305.6" y="851.02" text-anchor="end">15</text><text class="lb" x="310.1" y="851.02">応募</text><text class="nm" x="342.1" y="851.02" text-anchor="end">7</text><text class="lb" x="273.6" y="866.62">当選</text><text class="nm" x="305.6" y="866.62" text-anchor="end">7</text><text class="tt" x="496.8" y="196.16">成人中級</text><text class="tm" x="497" y="211.75">10:20-11:20</text><text class="lb" x="498" y="227.34">定員</text><text class="nm" x="530" y="227.34" text-anchor="end">15</text><text class="lb" x="534.5" y="227.34">応募</text><text class="nm" x="566.5" y="227.34" text-anchor="end">14</text><text class="lb" x="498" y="242.94">当選</text><text class="nm" x="530" y="242.94" text-anchor="end">13</text><text class="rzan" x="613.95" y="231.25" text-anchor="middle">残<tspan class="rzd" dx="1" dy="2.3">2</tspan></text><text class="tt" x="496.8" y="274.12">成人初心初級合同</text><text class="tm" x="497" y="289.71">11:30-12:30</text><text class="lb" x="498" y="305.3">定員</text><text class="nm" x="530" y="305.3" text-anchor="end">18</text><text class="lb" x="534.5" y="305.3">応募</text><text class="nm" x="566.5" y="305.3" text-anchor="end">6</text><text class="lb" x="498" y="320.9">当選</text><text class="nm" x="530" y="320.9" text-anchor="end">6</text><text class="tt" x="496.8" y="352.08">アクア腰痛改善体操</text><text class="tm" x="497" y="367.67">12:40-13:40</text><text class="lb" x="498" y="383.26">定員</text><text class="nm" x="530" y="383.26" text-anchor="end">25</text><text class="lb" x="534.5" y="383.26">応募</text><text class="nm" x="566.5" y="383.26" text-anchor="end">17</text><text class="lb" x="498" y="398.86">当選</text><text class="nm" x="530" y="398.86" text-anchor="end">16</text><text class="tt" x="496.8" y="430.04">シニア初級</text><text class="tm" x="497" y="445.63">13:50-14:50</text><text class="lb" x="498" y="461.22">定員</text><text class="nm" x="530" y="461.22" text-anchor="end">18</text><text class="lb" x="534.5" y="461.22">応募</text><text class="nm" x="566.5" y="461.22" text-anchor="end">6</text><text class="lb" x="498" y="476.82">当選</text><text class="nm" x="530" y="476.82" text-anchor="end">4</text><text class="lb" x="649.5" y="398.86">幼児<tspan class="circ">①</tspan></text><text class="lb" x="686" y="398.86">幼児<tspan class="circ">②</tspan></text><text class="tm" x="683.8" y="414.45" text-anchor="middle">14:10-15:00</text><text class="lb" x="649.5" y="430.04">定員</text><text class="nm" x="681.5" y="430.04" text-anchor="end">8</text><text class="lb" x="686" y="430.04">定員</text><text class="nm" x="718" y="430.04" text-anchor="end">10</text><text class="lb" x="649.5" y="445.63">当選</text><text class="nm" x="681.5" y="445.63" text-anchor="end">6</text><text class="lb" x="686" y="445.63">当選</text><text class="nm" x="718" y="445.63" text-anchor="end">4</text><text class="lb" x="649.5" y="461.22">応募</text><text class="nm" x="681.5" y="461.22" text-anchor="end">6</text><text class="lb" x="686" y="461.22">応募</text><text class="nm" x="718" y="461.22" text-anchor="end">4</text><text class="rs" x="665.55" y="477.32" text-anchor="middle" textLength="32.4" lengthAdjust="spacingAndGlyphs">残り2枠</text><text class="lb" x="649.5" y="492.41">幼児<tspan class="circ">①</tspan></text><text class="lb" x="686" y="492.41">幼児<tspan class="circ">②</tspan></text><text class="tm" x="683.8" y="508" text-anchor="middle">15:10-16:00</text><text class="lb" x="649.5" y="523.59">定員</text><text class="nm" x="681.5" y="523.59" text-anchor="end">8</text><text class="lb" x="686" y="523.59">定員</text><text class="nm" x="718" y="523.59" text-anchor="end">10</text><text class="lb" x="649.5" y="539.18">当選</text><text class="nm" x="681.5" y="539.18" text-anchor="end">6</text><text class="lb" x="686" y="539.18">当選</text><text class="nm" x="718" y="539.18" text-anchor="end">3</text><text class="lb" x="649.5" y="554.78">応募</text><text class="nm" x="681.5" y="554.78" text-anchor="end">14</text><text class="lb" x="686" y="554.78">応募</text><text class="nm" x="718" y="554.78" text-anchor="end">3</text><text class="rs" x="665.55" y="570.87" text-anchor="middle" textLength="32.4" lengthAdjust="spacingAndGlyphs">残り2枠</text><text class="lb" x="498" y="601.55">初心<tspan class="circ">①</tspan></text><text class="lb" x="534.5" y="601.55">初心<tspan class="circ">②</tspan></text><text class="lb" x="571" y="601.55">初級<tspan class="circ">①②</tspan></text><text class="tm" x="568.8" y="617.14" text-anchor="middle">16:15-17:15</text><text class="lb" x="498" y="632.74">定員</text><text class="nm" x="530" y="632.74" text-anchor="end">10</text><text class="lb" x="534.5" y="632.74">定員</text><text class="nm" x="566.5" y="632.74" text-anchor="end">15</text><text class="lb" x="571" y="632.74">定員</text><text class="lb2" x="594.3" y="632.74">合計<tspan class="nmt">15</tspan>名</text><text class="lb" x="498" y="648.33">当選</text><text class="nm" x="530" y="648.33" text-anchor="end">10</text><text class="lb" x="534.5" y="648.33">当選</text><text class="nm" x="566.5" y="648.33" text-anchor="end">15</text><text class="lb" x="571" y="648.33">当選</text><text class="nm" x="603" y="648.33" text-anchor="end">10</text><text class="lb" x="607.5" y="648.33">当選</text><text class="nm" x="639.5" y="648.33" text-anchor="end">5</text><text class="lb" x="498" y="663.92">応募</text><text class="nm" x="530" y="663.92" text-anchor="end">14</text><text class="lb" x="534.5" y="663.92">応募</text><text class="nm" x="566.5" y="663.92" text-anchor="end">20</text><text class="lb" x="571" y="663.92">応募</text><text class="nm" x="603" y="663.92" text-anchor="end">12</text><text class="lb" x="607.5" y="663.92">応募</text><text class="nm" x="639.5" y="663.92" text-anchor="end">6</text><text class="rs" x="506.65" y="680.01" text-anchor="middle">満</text><text class="rs" x="521.55" y="680.01" text-anchor="middle">員</text><text class="rs" x="543.15" y="680.01" text-anchor="middle">満</text><text class="rs" x="558.05" y="680.01" text-anchor="middle">員</text><text class="rs" x="597.9" y="680.01" text-anchor="middle">満</text><text class="rs" x="612.8" y="680.01" text-anchor="middle">員</text><text class="lb" x="498" y="710.7">中級</text><text class="lb" x="571" y="710.7">上級</text><text class="tm" x="568.8" y="726.29" text-anchor="middle">17:30-18:30</text><text class="lb" x="498" y="741.88">定員</text><text class="nm" x="530" y="741.88" text-anchor="end">15</text><text class="lb" x="498" y="757.47">当選</text><text class="nm" x="530" y="757.47" text-anchor="end">8</text><text class="lb" x="498" y="773.06">応募</text><text class="nm" x="530" y="773.06" text-anchor="end">8</text><text class="lb" x="571" y="741.88">定員</text><text class="nm" x="603" y="741.88" text-anchor="end">10</text><text class="lb" x="571" y="757.47">当選</text><text class="nm" x="603" y="757.47" text-anchor="end">7</text><text class="lb" x="571" y="773.06">応募</text><text class="nm" x="603" y="773.06" text-anchor="end">7</text><text class="rzan2" x="623.25" y="783.56" text-anchor="middle">残<tspan class="rzd2" dx="0.8" dy="0.5">3</tspan></text><text class="tt" x="496.8" y="819.84">成人初級中級合同</text><text class="tm" x="497" y="835.43">18:45-19:45</text><text class="lb" x="498" y="851.02">定員</text><text class="nm" x="530" y="851.02" text-anchor="end">15</text><text class="lb" x="534.5" y="851.02">応募</text><text class="nm" x="566.5" y="851.02" text-anchor="end">9</text><text class="lb" x="498" y="866.62">当選</text><text class="nm" x="530" y="866.62" text-anchor="end">9</text><text class="tt" x="721.4" y="196.16">成人上級</text><text class="tm" x="721.6" y="211.75">10:20-11:20</text><text class="lb" x="722.6" y="227.34">定員</text><text class="nm" x="754.6" y="227.34" text-anchor="end">15</text><text class="lb" x="759.1" y="227.34">応募</text><text class="nm" x="791.1" y="227.34" text-anchor="end">11</text><text class="lb" x="722.6" y="242.94">当選</text><text class="nm" x="754.6" y="242.94" text-anchor="end">11</text><text class="tt" x="721.4" y="274.12">成人初級</text><text class="tm" x="721.6" y="289.71">11:30-12:30</text><text class="lb" x="722.6" y="305.3">定員</text><text class="nm" x="754.6" y="305.3" text-anchor="end">18</text><text class="lb" x="759.1" y="305.3">応募</text><text class="nm" x="791.1" y="305.3" text-anchor="end">6</text><text class="lb" x="722.6" y="320.9">当選</text><text class="nm" x="754.6" y="320.9" text-anchor="end">6</text><text class="tt" x="721.4" y="352.08">成人中級</text><text class="tm" x="721.6" y="367.67">12:40-13:40</text><text class="lb" x="722.6" y="383.26">定員</text><text class="nm" x="754.6" y="383.26" text-anchor="end">15</text><text class="lb" x="759.1" y="383.26">応募</text><text class="nm" x="791.1" y="383.26" text-anchor="end">11</text><text class="lb" x="722.6" y="398.86">当選</text><text class="nm" x="754.6" y="398.86" text-anchor="end">10</text><text class="tt" x="721.4" y="430.04">ボディメイクエクササイズ</text><text class="tm" x="721.6" y="445.63">13:50-14:50</text><text class="lb" x="722.6" y="461.22">定員</text><text class="nm" x="754.6" y="461.22" text-anchor="end">25</text><text class="lb" x="759.1" y="461.22">応募</text><text class="nm" x="791.1" y="461.22" text-anchor="end">18</text><text class="lb" x="722.6" y="476.82">当選</text><text class="nm" x="754.6" y="476.82" text-anchor="end">18</text><text class="lb" x="874.1" y="492.41">幼児<tspan class="circ">①</tspan></text><text class="lb" x="910.6" y="492.41">幼児<tspan class="circ">②</tspan></text><text class="tm" x="908.4" y="508" text-anchor="middle">15:10-16:00</text><text class="lb" x="874.1" y="523.59">定員</text><text class="nm" x="906.1" y="523.59" text-anchor="end">8</text><text class="lb" x="910.6" y="523.59">定員</text><text class="nm" x="942.6" y="523.59" text-anchor="end">10</text><text class="lb" x="874.1" y="539.18">当選</text><text class="nm" x="906.1" y="539.18" text-anchor="end">6</text><text class="lb" x="910.6" y="539.18">当選</text><text class="nm" x="942.6" y="539.18" text-anchor="end">0</text><text class="lb" x="874.1" y="554.78">応募</text><text class="nm" x="906.1" y="554.78" text-anchor="end">6</text><text class="lb" x="910.6" y="554.78">応募</text><text class="nm" x="942.6" y="554.78" text-anchor="end">0</text><text class="rs" x="890.15" y="570.87" text-anchor="middle" textLength="32.4" lengthAdjust="spacingAndGlyphs">残り2枠</text><text class="rs" x="926.65" y="570.87" text-anchor="middle" textLength="32" lengthAdjust="spacingAndGlyphs">クローズ</text><text class="lb" x="874.1" y="585.96">幼児<tspan class="circ">①</tspan></text><text class="lb" x="910.6" y="585.96">幼児<tspan class="circ">②</tspan></text><text class="tm" x="908.4" y="601.55" text-anchor="middle">16:10-17:00</text><text class="lb" x="874.1" y="617.14">定員</text><text class="nm" x="906.1" y="617.14" text-anchor="end">8</text><text class="lb" x="910.6" y="617.14">定員</text><text class="nm" x="942.6" y="617.14" text-anchor="end">10</text><text class="lb" x="874.1" y="632.74">当選</text><text class="nm" x="906.1" y="632.74" text-anchor="end">7</text><text class="lb" x="910.6" y="632.74">当選</text><text class="nm" x="942.6" y="632.74" text-anchor="end">7</text><text class="lb" x="874.1" y="648.33">応募</text><text class="nm" x="906.1" y="648.33" text-anchor="end">6</text><text class="lb" x="910.6" y="648.33">応募</text><text class="nm" x="942.6" y="648.33" text-anchor="end">6</text><text class="rs" x="890.15" y="664.42" text-anchor="middle" textLength="31.4" lengthAdjust="spacingAndGlyphs">残り1枠</text><text class="rs" x="926.65" y="664.42" text-anchor="middle" textLength="32" lengthAdjust="spacingAndGlyphs">残り3枠</text><text class="lb" x="722.6" y="601.55">初心<tspan class="circ">①</tspan></text><text class="lb" x="759.1" y="601.55">初心<tspan class="circ">②</tspan></text><text class="lb" x="795.6" y="601.55">初級<tspan class="circ">①②</tspan></text><text class="tm" x="793.4" y="617.14" text-anchor="middle">16:15-17:15</text><text class="lb" x="722.6" y="632.74">定員</text><text class="nm" x="754.6" y="632.74" text-anchor="end">12</text><text class="lb" x="759.1" y="632.74">定員</text><text class="nm" x="791.1" y="632.74" text-anchor="end">15</text><text class="lb" x="795.6" y="632.74">定員</text><text class="lb2" x="818.9" y="632.74">合計<tspan class="nmt">15</tspan>名</text><text class="lb" x="722.6" y="648.33">当選</text><text class="nm" x="754.6" y="648.33" text-anchor="end">11</text><text class="lb" x="759.1" y="648.33">当選</text><text class="nm" x="791.1" y="648.33" text-anchor="end">14</text><text class="lb" x="795.6" y="648.33">当選</text><text class="nm" x="827.6" y="648.33" text-anchor="end">9</text><text class="lb" x="832.1" y="648.33">当選</text><text class="nm" x="864.1" y="648.33" text-anchor="end">6</text><text class="lb" x="722.6" y="663.92">応募</text><text class="nm" x="754.6" y="663.92" text-anchor="end">5</text><text class="lb" x="759.1" y="663.92">応募</text><text class="nm" x="791.1" y="663.92" text-anchor="end">13</text><text class="lb" x="795.6" y="663.92">応募</text><text class="nm" x="827.6" y="663.92" text-anchor="end">7</text><text class="lb" x="832.1" y="663.92">応募</text><text class="nm" x="864.1" y="663.92" text-anchor="end">5</text><text class="rs" x="738.65" y="680.01" text-anchor="middle" textLength="31.4" lengthAdjust="spacingAndGlyphs">残り1枠</text><text class="rs" x="775.15" y="680.01" text-anchor="middle" textLength="31.4" lengthAdjust="spacingAndGlyphs">残り1枠</text><text class="rs" x="822.5" y="680.01" text-anchor="middle">満</text><text class="rs" x="837.4" y="680.01" text-anchor="middle">員</text><text class="lb" x="722.6" y="710.7">初心<tspan class="circ">①</tspan></text><text class="lb" x="759.1" y="710.7">初心<tspan class="circ">②</tspan></text><text class="lb" x="795.6" y="710.7">初級<tspan class="circ">①②</tspan></text><text class="tm" x="793.4" y="726.29" text-anchor="middle">17:30-18:30</text><text class="lb" x="722.6" y="741.88">定員</text><text class="nm" x="754.6" y="741.88" text-anchor="end">12</text><text class="lb" x="759.1" y="741.88">定員</text><text class="nm" x="791.1" y="741.88" text-anchor="end">15</text><text class="lb" x="795.6" y="741.88">定員</text><text class="lb2" x="818.9" y="741.88">合計<tspan class="nmt">15</tspan>名</text><text class="lb" x="722.6" y="757.47">当選</text><text class="nm" x="754.6" y="757.47" text-anchor="end">5</text><text class="lb" x="759.1" y="757.47">当選</text><text class="nm" x="791.1" y="757.47" text-anchor="end">3</text><text class="lb" x="795.6" y="757.47">当選</text><text class="nm" x="827.6" y="757.47" text-anchor="end">2</text><text class="lb" x="832.1" y="757.47">当選</text><text class="nm" x="864.1" y="757.47" text-anchor="end">1</text><text class="lb" x="722.6" y="773.06">応募</text><text class="nm" x="754.6" y="773.06" text-anchor="end">4</text><text class="lb" x="759.1" y="773.06">応募</text><text class="nm" x="791.1" y="773.06" text-anchor="end">1</text><text class="lb" x="795.6" y="773.06">応募</text><text class="nm" x="827.6" y="773.06" text-anchor="end">1</text><text class="lb" x="832.1" y="773.06">応募</text><text class="nm" x="864.1" y="773.06" text-anchor="end">1</text><text class="tt" x="721.4" y="819.84">成人ワンポイント</text><text class="tm" x="721.6" y="835.43">18:45-19:45</text><text class="tt" x="946" y="196.16">アクアエクササイズ</text><text class="tm" x="946.2" y="211.75">10:20-11:20</text><text class="lb" x="947.2" y="227.34">定員</text><text class="nm" x="979.2" y="227.34" text-anchor="end">25</text><text class="lb" x="983.7" y="227.34">応募</text><text class="nm" x="1015.7" y="227.34" text-anchor="end">26</text><text class="lb" x="947.2" y="242.94">当選</text><text class="nm" x="979.2" y="242.94" text-anchor="end">25</text><text class="rbig" x="1063.75" y="236.05" text-anchor="middle">満</text><text class="tt" x="946" y="274.12" textLength="75" lengthAdjust="spacingAndGlyphs">アクトレ！Withミット</text><text class="tm" x="946.2" y="289.71">11:35-12:20</text><text class="lb" x="947.2" y="305.3">定員</text><text class="nm" x="979.2" y="305.3" text-anchor="end">25</text><text class="lb" x="983.7" y="305.3">応募</text><text class="nm" x="1015.7" y="305.3" text-anchor="end">2</text><text class="lb" x="947.2" y="320.9">当選</text><text class="nm" x="979.2" y="320.9" text-anchor="end">3</text><text class="tt" x="946" y="352.08">成人初心初級合同</text><text class="tm" x="946.2" y="367.67">12:40-13:40</text><text class="lb" x="947.2" y="383.26">定員</text><text class="nm" x="979.2" y="383.26" text-anchor="end">18</text><text class="lb" x="983.7" y="383.26">応募</text><text class="nm" x="1015.7" y="383.26" text-anchor="end">0</text><text class="lb" x="947.2" y="398.86">当選</text><text class="nm" x="979.2" y="398.86" text-anchor="end">0</text><text class="rclose" x="1063.55" y="387.77" text-anchor="middle" textLength="52.5" lengthAdjust="spacingAndGlyphs">ｸﾛｰｽﾞ</text><text class="tt" x="946" y="430.04">シニア中級</text><text class="tm" x="946.2" y="445.63">13:50-14:50</text><text class="lb" x="947.2" y="461.22">定員</text><text class="nm" x="979.2" y="461.22" text-anchor="end">15</text><text class="lb" x="983.7" y="461.22">応募</text><text class="nm" x="1015.7" y="461.22" text-anchor="end">7</text><text class="lb" x="947.2" y="476.82">当選</text><text class="nm" x="979.2" y="476.82" text-anchor="end">7</text><text class="lb" x="1098.7" y="492.41">幼児<tspan class="circ">①</tspan></text><text class="lb" x="1135.2" y="492.41">幼児<tspan class="circ">②</tspan></text><text class="tm" x="1133" y="508" text-anchor="middle">15:10-16:00</text><text class="lb" x="1098.7" y="523.59">定員</text><text class="nm" x="1130.7" y="523.59" text-anchor="end">8</text><text class="lb" x="1135.2" y="523.59">定員</text><text class="nm" x="1167.2" y="523.59" text-anchor="end">10</text><text class="lb" x="1098.7" y="539.18">当選</text><text class="nm" x="1130.7" y="539.18" text-anchor="end">1</text><text class="lb" x="1135.2" y="539.18">当選</text><text class="nm" x="1167.2" y="539.18" text-anchor="end">2</text><text class="lb" x="1098.7" y="554.78">応募</text><text class="nm" x="1130.7" y="554.78" text-anchor="end">1</text><text class="lb" x="1135.2" y="554.78">応募</text><text class="nm" x="1167.2" y="554.78" text-anchor="end">2</text><text class="lb" x="1098.7" y="585.96">幼児<tspan class="circ">①</tspan></text><text class="lb" x="1135.2" y="585.96">幼児<tspan class="circ">②</tspan></text><text class="tm" x="1133" y="601.55" text-anchor="middle">16:10-17:00</text><text class="lb" x="1098.7" y="617.14">定員</text><text class="nm" x="1130.7" y="617.14" text-anchor="end">8</text><text class="lb" x="1135.2" y="617.14">定員</text><text class="nm" x="1167.2" y="617.14" text-anchor="end">10</text><text class="lb" x="1098.7" y="632.74">当選</text><text class="nm" x="1130.7" y="632.74" text-anchor="end">7</text><text class="lb" x="1135.2" y="632.74">当選</text><text class="nm" x="1167.2" y="632.74" text-anchor="end">2</text><text class="lb" x="1098.7" y="648.33">応募</text><text class="nm" x="1130.7" y="648.33" text-anchor="end">9</text><text class="lb" x="1135.2" y="648.33">応募</text><text class="nm" x="1167.2" y="648.33" text-anchor="end">3</text><text class="rs" x="1114.75" y="664.42" text-anchor="middle" textLength="31.4" lengthAdjust="spacingAndGlyphs">残り1枠</text><text class="lb" x="947.2" y="601.55">初心<tspan class="circ">①</tspan></text><text class="lb" x="983.7" y="601.55">初心<tspan class="circ">②</tspan></text><text class="lb" x="1020.2" y="601.55">初級<tspan class="circ">①②</tspan></text><text class="tm" x="1018" y="617.14" text-anchor="middle">16:15-17:15</text><text class="lb" x="947.2" y="632.74">定員</text><text class="nm" x="979.2" y="632.74" text-anchor="end">10</text><text class="lb" x="983.7" y="632.74">定員</text><text class="nm" x="1015.7" y="632.74" text-anchor="end">15</text><text class="lb" x="1020.2" y="632.74">定員</text><text class="lb2" x="1043.5" y="632.74">合計<tspan class="nmt">15</tspan>名</text><text class="lb" x="947.2" y="648.33">当選</text><text class="nm" x="979.2" y="648.33" text-anchor="end">9</text><text class="lb" x="983.7" y="648.33">当選</text><text class="nm" x="1015.7" y="648.33" text-anchor="end">11</text><text class="lb" x="1020.2" y="648.33">当選</text><text class="nm" x="1052.2" y="648.33" text-anchor="end">7</text><text class="lb" x="1056.7" y="648.33">当選</text><text class="nm" x="1088.7" y="648.33" text-anchor="end">7</text><text class="lb" x="947.2" y="663.92">応募</text><text class="nm" x="979.2" y="663.92" text-anchor="end">16</text><text class="lb" x="983.7" y="663.92">応募</text><text class="nm" x="1015.7" y="663.92" text-anchor="end">9</text><text class="lb" x="1020.2" y="663.92">応募</text><text class="nm" x="1052.2" y="663.92" text-anchor="end">8</text><text class="lb" x="1056.7" y="663.92">応募</text><text class="nm" x="1088.7" y="663.92" text-anchor="end">12</text><text class="rs" x="963.25" y="680.01" text-anchor="middle" textLength="31.4" lengthAdjust="spacingAndGlyphs">残り1枠</text><text class="rs" x="999.75" y="680.01" text-anchor="middle" textLength="32" lengthAdjust="spacingAndGlyphs">残り4枠</text><text class="rs" x="1054.5" y="680.01" text-anchor="middle" textLength="31.4" lengthAdjust="spacingAndGlyphs">残り1枠</text><text class="lb" x="947.2" y="710.7">初級<tspan class="circ">①</tspan></text><text class="lb" x="983.7" y="710.7">初級<tspan class="circ">②</tspan></text><text class="lb" x="1020.2" y="710.7">中級</text><text class="tm" x="1018" y="726.29" text-anchor="middle">17:30-18:30</text><text class="lb" x="947.2" y="741.88">定員</text><text class="nm" x="979.2" y="741.88" text-anchor="end">15</text><text class="lb" x="983.7" y="741.88">定員</text><text class="nm" x="1015.7" y="741.88" text-anchor="end">15</text><text class="lb" x="1020.2" y="741.88">定員</text><text class="lb2" x="1043.5" y="741.88">合計<tspan class="nmt">18</tspan>名</text><text class="lb" x="947.2" y="757.47">当選</text><text class="nm" x="979.2" y="757.47" text-anchor="end">8</text><text class="lb" x="983.7" y="757.47">当選</text><text class="nm" x="1015.7" y="757.47" text-anchor="end">5</text><text class="lb" x="1020.2" y="757.47">当選</text><text class="nm" x="1052.2" y="757.47" text-anchor="end">9</text><text class="lb" x="947.2" y="773.06">応募</text><text class="nm" x="979.2" y="773.06" text-anchor="end">8</text><text class="lb" x="983.7" y="773.06">応募</text><text class="nm" x="1015.7" y="773.06" text-anchor="end">1</text><text class="lb" x="1020.2" y="773.06">応募</text><text class="nm" x="1052.2" y="773.06" text-anchor="end">10</text><text class="tt" x="946" y="819.84">小中学生合同上級</text><text class="tm" x="946.2" y="835.43">18:45-19:45</text><text class="lb" x="947.2" y="851.02">定員</text><text class="nm" x="979.2" y="851.02" text-anchor="end">20</text><text class="lb" x="983.7" y="851.02">応募</text><text class="nm" x="1015.7" y="851.02" text-anchor="end">11</text><text class="lb" x="947.2" y="866.62">当選</text><text class="nm" x="979.2" y="866.62" text-anchor="end">11</text><text class="lb" x="1323.1" y="211.75">幼児<tspan class="circ">①</tspan></text><text class="lb" x="1359.6" y="211.75">幼児<tspan class="circ">②</tspan></text><text class="tm" x="1323.1" y="227.34">10<tspan dx="0.9">:</tspan><tspan dx="0.9">30-11</tspan><tspan dx="0.9">:</tspan><tspan dx="0.9">20</tspan></text><text class="lb" x="1323.1" y="242.94">定員</text><text class="nm" x="1355.1" y="242.94" text-anchor="end">10</text><text class="lb" x="1359.6" y="242.94">定員</text><text class="nm" x="1391.6" y="242.94" text-anchor="end">10</text><text class="lb" x="1323.1" y="258.53">当選</text><text class="nm" x="1355.1" y="258.53" text-anchor="end">10</text><text class="lb" x="1359.6" y="258.53">当選</text><text class="nm" x="1391.6" y="258.53" text-anchor="end">10</text><text class="lb" x="1323.1" y="274.12">応募</text><text class="nm" x="1355.1" y="274.12" text-anchor="end">30</text><text class="lb" x="1359.6" y="274.12">応募</text><text class="nm" x="1391.6" y="274.12" text-anchor="end">12</text><text class="rs" x="1331.75" y="290.21" text-anchor="middle">満</text><text class="rs" x="1346.65" y="290.21" text-anchor="middle">員</text><text class="rs" x="1368.25" y="290.21" text-anchor="middle">満</text><text class="rs" x="1383.15" y="290.21" text-anchor="middle">員</text><text class="lb" x="1323.1" y="305.3">幼児<tspan class="circ">①</tspan></text><text class="lb" x="1359.6" y="305.3">幼児<tspan class="circ">②</tspan></text><text class="tm" x="1357.4" y="320.9" text-anchor="middle">11<tspan dx="0.9">:</tspan><tspan dx="0.9">30-12</tspan><tspan dx="0.9">:</tspan><tspan dx="0.9">20</tspan></text><text class="lb" x="1323.1" y="336.49">定員</text><text class="nm" x="1355.1" y="336.49" text-anchor="end">10</text><text class="lb" x="1359.6" y="336.49">定員</text><text class="nm" x="1391.6" y="336.49" text-anchor="end">10</text><text class="lb" x="1323.1" y="352.08">当選</text><text class="nm" x="1355.1" y="352.08" text-anchor="end">10</text><text class="lb" x="1359.6" y="352.08">当選</text><text class="nm" x="1391.6" y="352.08" text-anchor="end">10</text><text class="lb" x="1323.1" y="367.67">応募</text><text class="nm" x="1355.1" y="367.67" text-anchor="end">10</text><text class="lb" x="1359.6" y="367.67">応募</text><text class="nm" x="1391.6" y="367.67" text-anchor="end">10</text><text class="rs" x="1331.75" y="383.76" text-anchor="middle">満</text><text class="rs" x="1346.65" y="383.76" text-anchor="middle">員</text><text class="rs" x="1368.25" y="383.76" text-anchor="middle">満</text><text class="rs" x="1383.15" y="383.76" text-anchor="middle">員</text><text class="lb" x="1171.6" y="367.67">初心<tspan class="circ">①</tspan></text><text class="lb" x="1208.1" y="367.67">初心<tspan class="circ">②</tspan></text><text class="tm" x="1205.9" y="383.26" text-anchor="middle">12<tspan dx="0.9">:</tspan><tspan dx="0.9">50-13</tspan><tspan dx="0.9">:</tspan><tspan dx="0.9">50</tspan></text><text class="lb" x="1171.6" y="398.86">定員</text><text class="nm" x="1203.6" y="398.86" text-anchor="end">12</text><text class="lb" x="1208.1" y="398.86">定員</text><text class="nm" x="1240.1" y="398.86" text-anchor="end">15</text><text class="lb" x="1171.6" y="414.45">当選</text><text class="nm" x="1203.6" y="414.45" text-anchor="end">12</text><text class="lb" x="1208.1" y="414.45">当選</text><text class="nm" x="1240.1" y="414.45" text-anchor="end">13</text><text class="lb" x="1171.6" y="430.04">応募</text><text class="nm" x="1203.6" y="430.04" text-anchor="end">15</text><text class="lb" x="1208.1" y="430.04">応募</text><text class="nm" x="1240.1" y="430.04" text-anchor="end">15</text><text class="rs" x="1180.25" y="446.13" text-anchor="middle">満</text><text class="rs" x="1195.15" y="446.13" text-anchor="middle">員</text><text class="rs" x="1224.15" y="446.13" text-anchor="middle" textLength="32.4" lengthAdjust="spacingAndGlyphs">残り2枠</text><text class="lb" x="1171.6" y="461.22">初心<tspan class="circ">①</tspan></text><text class="lb" x="1208.1" y="461.22">初心<tspan class="circ">②</tspan></text><text class="tm" x="1205.9" y="476.82" text-anchor="middle">14<tspan dx="0.9">:</tspan><tspan dx="0.9">00-15</tspan><tspan dx="0.9">:</tspan><tspan dx="0.9">00</tspan></text><text class="lb" x="1171.6" y="492.41">定員</text><text class="nm" x="1203.6" y="492.41" text-anchor="end">12</text><text class="lb" x="1208.1" y="492.41">定員</text><text class="nm" x="1240.1" y="492.41" text-anchor="end">15</text><text class="lb" x="1171.6" y="508">当選</text><text class="nm" x="1203.6" y="508" text-anchor="end">11</text><text class="lb" x="1208.1" y="508">当選</text><text class="nm" x="1240.1" y="508" text-anchor="end">9</text><text class="lb" x="1171.6" y="523.59">応募</text><text class="nm" x="1203.6" y="523.59" text-anchor="end">9</text><text class="lb" x="1208.1" y="523.59">応募</text><text class="nm" x="1240.1" y="523.59" text-anchor="end">8</text><text class="rs" x="1187.65" y="539.68" text-anchor="middle" textLength="31.4" lengthAdjust="spacingAndGlyphs">残り1枠</text><text class="lb" x="1171.6" y="554.78">初級<tspan class="circ">①</tspan></text><text class="lb" x="1208.1" y="554.78">初級<tspan class="circ">②</tspan></text><text class="tm" x="1205.9" y="570.37" text-anchor="middle">15<tspan dx="0.9">:</tspan><tspan dx="0.9">10-16</tspan><tspan dx="0.9">:</tspan><tspan dx="0.9">10</tspan></text><text class="lb" x="1171.6" y="585.96">定員</text><text class="nm" x="1203.6" y="585.96" text-anchor="end">18</text><text class="lb" x="1208.1" y="585.96">定員</text><text class="nm" x="1240.1" y="585.96" text-anchor="end">15</text><text class="lb" x="1171.6" y="601.55">当選</text><text class="nm" x="1203.6" y="601.55" text-anchor="end">15</text><text class="lb" x="1208.1" y="601.55">当選</text><text class="nm" x="1240.1" y="601.55" text-anchor="end">3</text><text class="lb" x="1171.6" y="617.14">応募</text><text class="nm" x="1203.6" y="617.14" text-anchor="end">15</text><text class="lb" x="1208.1" y="617.14">応募</text><text class="nm" x="1240.1" y="617.14" text-anchor="end">3</text><text class="rs" x="1187.65" y="633.24" text-anchor="middle" textLength="32" lengthAdjust="spacingAndGlyphs">残り3枠</text><text class="lb" x="1171.6" y="648.33">初級<tspan class="circ">①②</tspan></text><text class="tm" x="1205.9" y="663.92" text-anchor="middle">16<tspan dx="0.9">:</tspan><tspan dx="0.9">20-17</tspan><tspan dx="0.9">:</tspan><tspan dx="0.9">20</tspan></text><text class="lb" x="1171.6" y="679.51">定員</text><text class="lb2" x="1195" y="679.51">合計<tspan class="nmt">15</tspan>名</text><text class="lb" x="1171.6" y="695.1">当選</text><text class="nm" x="1203.6" y="695.1" text-anchor="end">7</text><text class="lb" x="1208.1" y="695.1">当選</text><text class="nm" x="1240.1" y="695.1" text-anchor="end">2</text><text class="lb" x="1171.6" y="710.7">応募</text><text class="nm" x="1203.6" y="710.7" text-anchor="end">7</text><text class="lb" x="1208.1" y="710.7">応募</text><text class="nm" x="1240.1" y="710.7" text-anchor="end">2</text><text class="tt" x="1170.4" y="741.88">中級</text><text class="tm" x="1170.6" y="757.47">17<tspan dx="0.9">:</tspan><tspan dx="0.9">30-18</tspan><tspan dx="0.9">:</tspan><tspan dx="0.9">30</tspan></text><text class="lb" x="1171.6" y="773.06">定員</text><text class="nm" x="1203.6" y="773.06" text-anchor="end">20</text><text class="lb" x="1208.1" y="773.06">応募</text><text class="nm" x="1240.1" y="773.06" text-anchor="end">17</text><text class="lb" x="1171.6" y="788.66">当選</text><text class="nm" x="1203.6" y="788.66" text-anchor="end">16</text><text class="tt" x="1170.4" y="819.84">成人初心初級合同</text><text class="tm" x="1170.6" y="835.43">18:45-19:45</text><text class="lb" x="1171.6" y="851.02">定員</text><text class="nm" x="1203.6" y="851.02" text-anchor="end">18</text><text class="lb" x="1208.1" y="851.02">応募</text><text class="nm" x="1240.1" y="851.02" text-anchor="end">6</text><text class="lb" x="1171.6" y="866.62">当選</text><text class="nm" x="1203.6" y="866.62" text-anchor="end">6</text><text class="st" x="1281.4" y="478.22" textLength="45.2" lengthAdjust="spacingAndGlyphs">応募総数</text><text class="stn" x="1366.6" y="479.12" text-anchor="middle" textLength="26.5" lengthAdjust="spacingAndGlyphs">724</text><text class="st" x="1281.4" y="509.4" textLength="52.5" lengthAdjust="spacingAndGlyphs">落選者総数</text><text class="stn" x="1366.6" y="510.3" text-anchor="middle" textLength="16.8" lengthAdjust="spacingAndGlyphs">23</text><text class="st" x="1281.4" y="540.58" textLength="48.2" lengthAdjust="spacingAndGlyphs">キャンセル</text><text class="stn" x="1366.6" y="541.48" text-anchor="middle" textLength="15" lengthAdjust="spacingAndGlyphs">10</text><text class="st" x="1281.4" y="571.77" textLength="45.2" lengthAdjust="spacingAndGlyphs">申込総数</text><text class="stn" x="1366.6" y="572.67" text-anchor="middle" textLength="24.1" lengthAdjust="spacingAndGlyphs">691</text></g>
</svg></body></html>
